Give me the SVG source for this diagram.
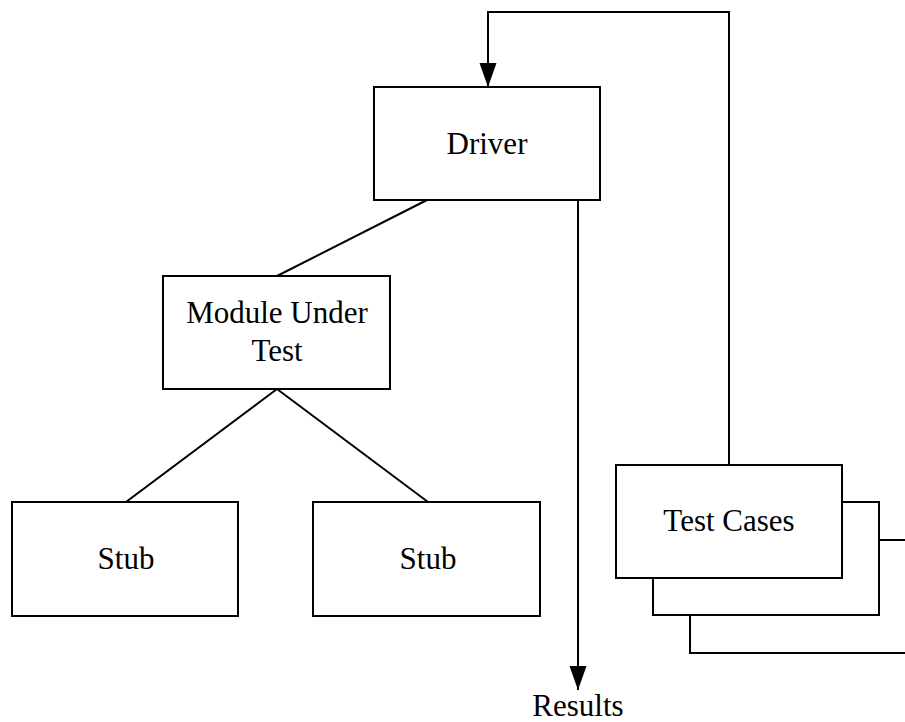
<svg xmlns="http://www.w3.org/2000/svg" width="905" height="722" viewBox="0 0 905 722">
  <style>
    .box { fill: #fff; stroke: #000; stroke-width: 2; }
    .wire { fill: none; stroke: #000; stroke-width: 2; }
    .label { font-family: "Liberation Serif", "Times New Roman", serif; font-size: 31px; fill: #000; text-anchor: middle; }
  </style>
  <defs>
    <!-- solid triangular arrowhead, 24 long by 17 wide -->
    <marker id="arrow" viewBox="0 0 24 18" markerWidth="24" markerHeight="18" refX="24" refY="9" orient="auto" markerUnits="userSpaceOnUse">
      <path d="M0,0.5 L24,9 L0,17.5 Z" fill="#000"/>
    </marker>
  </defs>

  <rect width="905" height="722" fill="#fff"/>

  <!-- connectors -->
  <g id="connectors">
    <path class="wire" d="M729,465 L729,12 L488,12 L488,87" marker-end="url(#arrow)"/>
    <path class="wire" d="M578,200 L578,690" marker-end="url(#arrow)"/>
    <line class="wire" x1="427" y1="200" x2="277" y2="276"/>
    <line class="wire" x1="277" y1="389" x2="126" y2="502"/>
    <line class="wire" x1="277" y1="389" x2="428" y2="502"/>
  </g>

  <g id="driver">
    <rect class="box" x="374" y="87" width="226" height="113"/>
    <text class="label" x="487" y="154">Driver</text>
  </g>

  <g id="module-under-test">
    <rect class="box" x="163" y="276" width="227" height="113"/>
    <text class="label" x="277" y="323">Module Under</text>
    <text class="label" x="277" y="361">Test</text>
  </g>

  <g id="stub-left">
    <rect class="box" x="12" y="502" width="226" height="114"/>
    <text class="label" x="126" y="569">Stub</text>
  </g>

  <g id="stub-right">
    <rect class="box" x="313" y="502" width="227" height="114"/>
    <text class="label" x="428" y="569">Stub</text>
  </g>

  <g id="test-cases">
    <rect class="box" x="690" y="540" width="226" height="113"/>
    <rect class="box" x="653" y="502" width="226" height="113"/>
    <rect class="box" x="616" y="465" width="226" height="113"/>
    <text class="label" x="729" y="531">Test Cases</text>
  </g>

  <g id="results">
    <text class="label" x="578" y="716">Results</text>
  </g>
</svg>
